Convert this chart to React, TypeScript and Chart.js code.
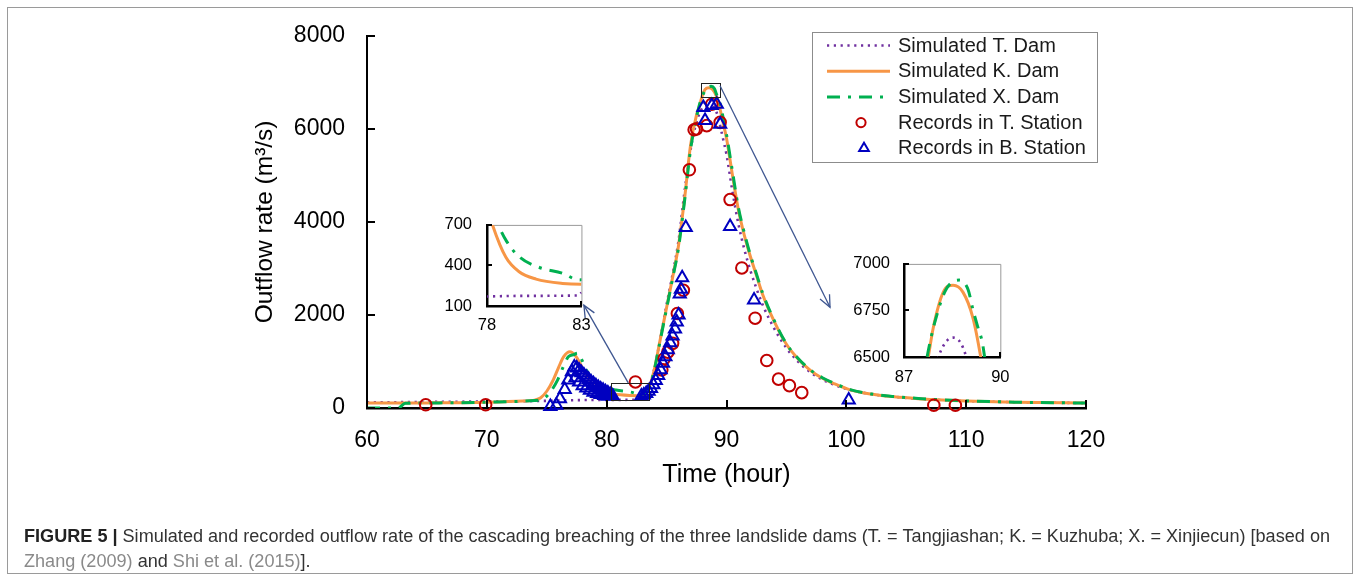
import React, { useEffect, useRef } from 'react';
import { Chart, registerables } from 'chart.js';

Chart.register(...registerables);

const SANS = "'Liberation Sans', Arial, Helvetica, sans-serif";
const NARROW = "'Liberation Sans Narrow', 'Arial Narrow', 'Liberation Sans', Arial, sans-serif";

// ---------- data ----------
const xTicksMain = [60, 70, 80, 90, 100, 110, 120];
const yTicksMain = [0, 2000, 4000, 6000, 8000];
const xTicksInset1 = [78, 83];
const yTicksInset1 = [100, 400, 700];
const xTicksInset2 = [87, 90];
const yTicksInset2 = [6500, 6750, 7000];

// Simulated T. Dam (purple, dotted)
const tDamHour = [60, 65, 70, 74, 78, 80, 82.8, 83.0, 83.3, 83.6, 84.0, 84.5, 85.0, 85.5, 86.0, 86.5, 87.0, 87.5, 88.07, 88.3, 88.53, 88.75, 88.94, 89.3, 89.7, 90.0, 90.5, 91.0, 91.5, 92.0, 93.0, 94.0, 95.0, 96.0, 97.0, 98.0, 99.0, 100.0, 102.0, 104.0, 106.0, 108.0, 110.0, 114.0, 120.0];
const tDamFlow = [120, 130, 140, 150, 170, 175, 178, 200, 300, 500, 870, 1520, 2220, 2870, 3600, 4650, 5550, 6150, 6500, 6580, 6604, 6580, 6500, 6250, 5800, 5450, 4650, 3950, 3400, 2950, 2230, 1700, 1290, 990, 770, 610, 500, 410, 300, 240, 200, 170, 150, 125, 105];

// Simulated K. Dam (orange, solid)
const kDamHour = [60, 65, 70, 73, 74, 74.5, 75, 75.5, 76, 76.4, 76.94, 77.36, 77.7, 78.0, 78.3, 79.0, 79.7, 80.6, 82.0, 83.0, 83.35, 83.6, 83.9, 84.46, 85.01, 85.5, 86.0, 86.5, 87.0, 87.5, 87.755, 87.91, 88.22, 88.53, 88.84, 89.15, 89.39, 89.7, 90.0, 90.5, 91.0, 91.5, 92.0, 92.5, 93.0, 94, 95, 96, 97, 98, 99, 100.32, 102, 104, 106, 108, 110, 114, 120];
const kDamFlow = [105, 110, 125, 150, 170, 220, 360, 580, 880, 1100, 1210, 1136, 1000, 840, 696, 460, 353, 299, 267, 261, 330, 480, 744, 1458, 2172, 2800, 3500, 4500, 5650, 6300, 6500, 6656, 6847, 6885, 6847, 6708, 6500, 6150, 5800, 5000, 4250, 3700, 3250, 2850, 2450, 1850, 1370, 1050, 810, 640, 520, 390, 300, 240, 200, 170, 150, 125, 105];

// Simulated X. Dam (green, dash-dot)
const xDamHour = [60, 62.6, 63.2, 66, 70, 74, 74.4, 74.9, 75.4, 75.9, 76.4, 76.8, 77.3, 77.55, 77.8, 78.06, 78.3, 78.6, 79.04, 79.74, 80.78, 82.0, 82.86, 83.3, 83.6, 83.9, 84.46, 85.01, 85.5, 86.0, 86.5, 87.0, 87.5, 87.72, 87.95, 88.3, 88.72, 89.0, 89.15, 89.3, 89.44, 89.51, 89.75, 90.0, 90.5, 91.0, 91.5, 92.0, 92.5, 93.0, 94, 95, 96, 97, 98, 99, 100.32, 102, 104, 106, 108, 110, 114, 120];
const xDamFlow = [0, 0, 100, 110, 125, 160, 170, 230, 380, 600, 900, 1100, 1150, 1180, 1100, 958, 820, 700, 578, 460, 385, 342, 293, 330, 470, 730, 1440, 2150, 2780, 3450, 4450, 5550, 6250, 6500, 6680, 6860, 6913, 6860, 6752, 6660, 6578, 6500, 6200, 5880, 5080, 4300, 3750, 3280, 2880, 2480, 1870, 1380, 1060, 820, 650, 530, 395, 305, 245, 205, 175, 152, 126, 106];

// Records in T. Station (red circles)
const tStationHour = [64.9, 69.9, 82.4, 84.6, 84.8, 85.1, 85.5, 85.9, 86.4, 86.9, 87.3, 87.5, 88.35, 88.77, 89.47, 90.3, 91.28, 92.39, 93.36, 94.34, 95.25, 96.28, 107.3, 109.1];
const tStationFlow = [70, 70, 560, 820, 1060, 1200, 1390, 2030, 2530, 5120, 5980, 6000, 6070, 6530, 6140, 4480, 3010, 1930, 1020, 620, 480, 330, 60, 60];

// Records in B. Station (blue triangles)
const bStationHour = [75.3, 75.8, 76.1, 76.5, 76.8, 77.1, 77.3, 77.4, 77.5, 77.7, 77.7, 77.9, 78.0, 78.1, 78.3, 78.3, 78.5, 78.6, 78.7, 78.9, 78.9, 79.1, 79.2, 79.3, 79.5, 79.5, 79.7, 79.8, 79.9, 80.1, 80.1, 80.3, 80.5, 82.9, 83.1, 83.3, 83.5, 83.7, 83.9, 84.1, 84.3, 84.5, 84.7, 84.9, 85.1, 85.3, 85.5, 85.7, 85.85, 86.0, 86.1, 86.2, 86.3, 86.6, 88.07, 88.21, 88.77, 89.19, 89.47, 90.3, 92.3, 100.2];
const bStationFlow = [30, 60, 200, 400, 600, 780, 880, 650, 860, 810, 560, 760, 480, 710, 660, 430, 610, 380, 560, 520, 340, 480, 310, 440, 410, 290, 380, 270, 350, 320, 250, 290, 260, 260, 280, 310, 360, 420, 500, 590, 700, 820, 960, 1100, 1250, 1400, 1550, 1700, 1850, 2000, 2450, 2550, 2800, 3880, 6460, 6180, 6500, 6530, 6100, 3900, 2320, 170];

// zoom boxes and arrows, in main-chart data coordinates
const zoomBoxes = [
  { x0: 80.4, x1: 83.6, y0: 170, y1: 540 },
  { x0: 87.9, x1: 89.5, y0: 6680, y1: 6990 },
];
const arrows = [
  { from: [81.8, 540], to: [78.1, 2210] },
  { from: [89.46, 6928], to: [98.64, 2166] },
];

// ---------- styles ----------
const PURPLE = '#7030A0';
const ORANGE = '#F79646';
const GREEN = '#00B050';
const RED = '#C00000';
const BLUE = '#0000C0';

const pairs = (xs: number[], ys: number[]) => xs.map((x, i) => ({ x, y: ys[i] }));
const plain = (v: any) => String(v);

function lineDatasets() {
  return [
    {
      label: 'Simulated T. Dam', data: pairs(tDamHour, tDamFlow), borderColor: PURPLE, backgroundColor: PURPLE,
      borderWidth: 2.6, borderDash: [2.2, 4.6], borderCapStyle: 'butt', pointRadius: 0,
      cubicInterpolationMode: 'monotone', fill: false, order: 5,
    },
    {
      label: 'Simulated K. Dam', data: pairs(kDamHour, kDamFlow), borderColor: ORANGE, backgroundColor: ORANGE,
      borderWidth: 3, pointRadius: 0, cubicInterpolationMode: 'monotone', fill: false, order: 4,
    },
    {
      label: 'Simulated X. Dam', data: pairs(xDamHour, xDamFlow), borderColor: GREEN, backgroundColor: GREEN,
      borderWidth: 3, borderDash: [13, 8, 3, 8], pointRadius: 0, cubicInterpolationMode: 'monotone', fill: false, order: 3,
    },
  ];
}

function markerDatasets() {
  return [
    {
      label: 'Records in T. Station', data: pairs(tStationHour, tStationFlow), showLine: false,
      pointStyle: 'circle', pointRadius: 5.8, pointBorderWidth: 2, pointBorderColor: RED,
      pointBackgroundColor: 'rgba(0,0,0,0)', borderColor: RED, backgroundColor: 'rgba(0,0,0,0)', order: 2, clip: false,
    },
    {
      label: 'Records in B. Station', data: pairs(bStationHour, bStationFlow), showLine: false,
      pointStyle: 'triangle', pointRadius: 7, pointBorderWidth: 2, pointBorderColor: BLUE,
      pointBackgroundColor: 'rgba(0,0,0,0)', borderColor: BLUE, backgroundColor: 'rgba(0,0,0,0)', order: 1, clip: false,
    },
  ];
}

function drawArrow(ctx: CanvasRenderingContext2D, x0: number, y0: number, x1: number, y1: number) {
  ctx.beginPath();
  ctx.moveTo(x0, y0);
  ctx.lineTo(x1, y1);
  ctx.stroke();
  const ang = Math.atan2(y1 - y0, x1 - x0);
  const len = 13;
  const spread = 0.42;
  ctx.beginPath();
  ctx.moveTo(x1 - len * Math.cos(ang - spread), y1 - len * Math.sin(ang - spread));
  ctx.lineTo(x1, y1);
  ctx.lineTo(x1 - len * Math.cos(ang + spread), y1 - len * Math.sin(ang + spread));
  ctx.stroke();
}

function drawLegend(chart: any) {
  const ctx: CanvasRenderingContext2D = chart.ctx;
  const box = { l: 812.5, t: 32.5, r: 1097.5, b: 162.5 };
  ctx.save();
  ctx.fillStyle = '#fff';
  ctx.fillRect(box.l, box.t, box.r - box.l, box.b - box.t);
  ctx.strokeStyle = '#8c8c8c';
  ctx.lineWidth = 1;
  ctx.strokeRect(box.l, box.t, box.r - box.l, box.b - box.t);
  const ds = chart.data.datasets;
  ds.forEach((d: any, i: number) => {
    const y = 45.5 + i * 25.7;
    if (d.showLine === false) {
      ctx.setLineDash([]);
      ctx.lineWidth = 2;
      ctx.strokeStyle = d.pointBorderColor;
      ctx.beginPath();
      if (d.pointStyle === 'circle') {
        ctx.arc(861, y, 4.6, 0, Math.PI * 2);
      } else {
        const r = 5.6;
        ctx.moveTo(864, y - r);
        ctx.lineTo(864 + r * 0.866, y + r * 0.5);
        ctx.lineTo(864 - r * 0.866, y + r * 0.5);
        ctx.closePath();
      }
      ctx.stroke();
    } else {
      ctx.setLineDash(d.borderDash || []);
      ctx.lineWidth = d.borderWidth;
      ctx.strokeStyle = d.borderColor;
      ctx.beginPath();
      ctx.moveTo(827, y);
      ctx.lineTo(890, y);
      ctx.stroke();
    }
    ctx.setLineDash([]);
    ctx.fillStyle = '#1a1a1a';
    ctx.font = `20px ${SANS}`;
    ctx.textBaseline = 'middle';
    ctx.textAlign = 'left';
    ctx.fillText(d.label, 898, y + 0.5);
  });
  ctx.restore();
}

function drawCaption(ctx: CanvasRenderingContext2D) {
  const line1 = [
    { t: 'FIGURE 5 | ', bold: true, color: '#222' },
    { t: 'Simulated and recorded outflow rate of the cascading breaching of the three landslide dams (T. = Tangjiashan; K. = Kuzhuba; X. = Xinjiecun) [based on', bold: false, color: '#333' },
  ];
  const line2 = [
    { t: 'Zhang (2009)', bold: false, color: '#8a8a8a' },
    { t: ' and ', bold: false, color: '#333' },
    { t: 'Shi et al. (2015)', bold: false, color: '#8a8a8a' },
    { t: '].', bold: false, color: '#333' },
  ];
  const font = (b: boolean) => `${b ? 'bold ' : ''}17.5px ${NARROW}`;
  const width = (segs: any[]) => segs.reduce((s, g) => { ctx.font = font(g.bold); return s + ctx.measureText(g.t).width; }, 0);
  const scale = (1330 - 24) / width(line1);
  const drawLine = (segs: any[], y: number) => {
    ctx.save();
    ctx.translate(24, y);
    ctx.scale(scale, 1);
    let x = 0;
    ctx.textBaseline = 'middle';
    ctx.textAlign = 'left';
    segs.forEach((g) => {
      ctx.font = font(g.bold);
      ctx.fillStyle = g.color;
      ctx.fillText(g.t, x, 0);
      x += ctx.measureText(g.t).width;
    });
    ctx.restore();
  };
  drawLine(line1, 537);
  drawLine(line2, 562);
}

const mainDecor = {
  id: 'mainDecor',
  afterDraw(chart: any) {
    const ctx: CanvasRenderingContext2D = chart.ctx;
    const a = chart.chartArea;
    const xs = chart.scales.x;
    const ys = chart.scales.y;
    ctx.save();
    // inward tick marks
    ctx.strokeStyle = '#000';
    ctx.lineWidth = 2;
    ctx.setLineDash([]);
    xTicksMain.forEach((v) => {
      const px = Math.round(xs.getPixelForValue(v));
      ctx.beginPath();
      ctx.moveTo(px, a.bottom);
      ctx.lineTo(px, a.bottom - 8);
      ctx.stroke();
    });
    yTicksMain.forEach((v) => {
      const py = Math.round(ys.getPixelForValue(v));
      ctx.beginPath();
      ctx.moveTo(a.left, py);
      ctx.lineTo(a.left + 8, py);
      ctx.stroke();
    });
    // zoom boxes
    ctx.strokeStyle = '#222';
    ctx.lineWidth = 1;
    zoomBoxes.forEach((b) => {
      const x0 = xs.getPixelForValue(b.x0), x1 = xs.getPixelForValue(b.x1);
      const y0 = ys.getPixelForValue(b.y0), y1 = ys.getPixelForValue(b.y1);
      ctx.strokeRect(Math.round(x0) + 0.5, Math.round(y1) + 0.5, Math.round(x1 - x0), Math.round(y0 - y1));
    });
    // arrows
    ctx.strokeStyle = '#3E5690';
    ctx.lineWidth = 1.3;
    arrows.forEach((ar) => {
      drawArrow(ctx, xs.getPixelForValue(ar.from[0]), ys.getPixelForValue(ar.from[1]),
        xs.getPixelForValue(ar.to[0]), ys.getPixelForValue(ar.to[1]));
    });
    ctx.restore();
    drawLegend(chart);
    ctx.save();
    drawCaption(ctx);
    // figure frame
    ctx.strokeStyle = '#9a9a9a';
    ctx.lineWidth = 1;
    ctx.strokeRect(7.5, 7.5, 1345, 566);
    ctx.restore();
  },
};

function makeMain(canvas: HTMLCanvasElement) {
  return new Chart(canvas, {
    type: 'line',
    data: { datasets: [...lineDatasets(), ...markerDatasets()] as any },
    options: {
      responsive: false,
      animation: false,
      events: [],
      layout: { padding: { left: 0, top: 35, right: 274, bottom: 0 } },
      plugins: { legend: { display: false }, tooltip: { enabled: false } },
      scales: {
        x: {
          type: 'linear', min: 60, max: 120,
          afterBuildTicks: (s: any) => { s.ticks = xTicksMain.map((v) => ({ value: v })); },
          ticks: { font: { family: SANS, size: 23 }, color: '#000', padding: 19, maxRotation: 0, callback: plain },
          grid: { display: false, drawTicks: false },
          border: { display: true, color: '#000', width: 2.5 },
          title: { display: true, text: 'Time (hour)', color: '#000', font: { family: SANS, size: 25 }, padding: { top: 0, bottom: 91 } },
          afterFit: (s: any) => { s.height = 173; },
        },
        y: {
          type: 'linear', min: 0, max: 8000,
          afterBuildTicks: (s: any) => { s.ticks = yTicksMain.map((v) => ({ value: v })); },
          ticks: { font: { family: SANS, size: 23 }, color: '#000', padding: 22, callback: plain },
          grid: { display: false, drawTicks: false },
          border: { display: true, color: '#000', width: 2 },
          title: { display: true, text: 'Outflow rate (m³/s)', color: '#000', font: { family: SANS, size: 24.5 }, padding: { top: 250.3, bottom: 0 } },
          afterFit: (s: any) => { s.width = 367; },
        },
      },
    },
    plugins: [mainDecor],
  } as any);
}

type InsetCfg = {
  left: number; top: number; w: number; h: number;
  area: { l: number; t: number; r: number; b: number };
  xMin: number; xMax: number; yMin: number; yMax: number;
  xTicks: number[]; yTicks: number[]; xPad: number; yPad: number;
};

const INSET1: InsetCfg = {
  left: 430, top: 200, w: 170, h: 140,
  area: { l: 57, t: 13, r: 153, b: 106 },
  xMin: 78, xMax: 83, yMin: 100, yMax: 700,
  xTicks: xTicksInset1, yTicks: yTicksInset1, xPad: 9.4, yPad: 15,
};
const INSET2: InsetCfg = {
  left: 840, top: 240, w: 180, h: 150,
  area: { l: 64, t: 21, r: 161, b: 117 },
  xMin: 87, xMax: 90, yMin: 6500, yMax: 7000,
  xTicks: xTicksInset2, yTicks: yTicksInset2, xPad: 10.5, yPad: 14,
};

function makeInset(canvas: HTMLCanvasElement, c: InsetCfg) {
  const decor = {
    id: 'insetDecor',
    beforeDatasetsDraw(chart: any) {
      const ctx: CanvasRenderingContext2D = chart.ctx;
      const a = chart.chartArea;
      ctx.save();
      ctx.strokeStyle = '#9a9a9a';
      ctx.lineWidth = 1;
      ctx.beginPath();
      ctx.moveTo(a.left, a.top + 0.5);
      ctx.lineTo(a.right + 0.5, a.top + 0.5);
      ctx.lineTo(a.right + 0.5, a.bottom);
      ctx.stroke();
      ctx.restore();
    },
    afterDraw(chart: any) {
      const ctx: CanvasRenderingContext2D = chart.ctx;
      const a = chart.chartArea;
      ctx.save();
      ctx.strokeStyle = '#000';
      ctx.lineWidth = 2;
      c.yTicks.forEach((v) => {
        const py = Math.round(chart.scales.y.getPixelForValue(v));
        ctx.beginPath();
        ctx.moveTo(a.left, py);
        ctx.lineTo(a.left + 5, py);
        ctx.stroke();
      });
      c.xTicks.forEach((v) => {
        const px = Math.round(chart.scales.x.getPixelForValue(v));
        ctx.beginPath();
        ctx.moveTo(px, a.bottom);
        ctx.lineTo(px, a.bottom - 5);
        ctx.stroke();
      });
      ctx.restore();
    },
  };
  return new Chart(canvas, {
    type: 'line',
    data: { datasets: lineDatasets() as any },
    options: {
      responsive: false,
      animation: false,
      events: [],
      layout: { padding: { left: 0, top: c.area.t, right: c.w - c.area.r, bottom: 0 } },
      plugins: { legend: { display: false }, tooltip: { enabled: false } },
      scales: {
        x: {
          type: 'linear', min: c.xMin, max: c.xMax,
          afterBuildTicks: (s: any) => { s.ticks = c.xTicks.map((v) => ({ value: v })); },
          ticks: { font: { family: SANS, size: 16.5 }, color: '#000', padding: c.xPad, maxRotation: 0, callback: plain },
          grid: { display: false, drawTicks: false },
          border: { display: true, color: '#000', width: 2.5 },
          afterFit: (s: any) => { s.height = c.h - c.area.b; },
        },
        y: {
          type: 'linear', min: c.yMin, max: c.yMax,
          afterBuildTicks: (s: any) => { s.ticks = c.yTicks.map((v) => ({ value: v })); },
          ticks: { font: { family: SANS, size: 16.5 }, color: '#000', padding: c.yPad, callback: plain },
          grid: { display: false, drawTicks: false },
          border: { display: true, color: '#000', width: 2.5 },
          afterFit: (s: any) => { s.width = c.area.l; },
        },
      },
    },
    plugins: [decor],
  } as any);
}

export default function App() {
  const mainRef = useRef<HTMLCanvasElement>(null);
  const in1Ref = useRef<HTMLCanvasElement>(null);
  const in2Ref = useRef<HTMLCanvasElement>(null);

  useEffect(() => {
    Chart.defaults.font.family = SANS;
    const charts = [
      makeMain(mainRef.current!),
      makeInset(in1Ref.current!, INSET1),
      makeInset(in2Ref.current!, INSET2),
    ];
    return () => charts.forEach((ch) => ch.destroy());
  }, []);

  const abs = (l: number, t: number, w: number, h: number) => ({ position: 'absolute' as const, left: l, top: t, width: w, height: h });

  return (
    <div style={{ ...abs(0, 0, 1360, 581), background: '#fff', overflow: 'hidden' }}>
      <canvas ref={mainRef} width={1360} height={581} style={abs(0, 0, 1360, 581)} />
      <canvas ref={in1Ref} width={INSET1.w} height={INSET1.h} style={abs(INSET1.left, INSET1.top, INSET1.w, INSET1.h)} />
      <canvas ref={in2Ref} width={INSET2.w} height={INSET2.h} style={abs(INSET2.left, INSET2.top, INSET2.w, INSET2.h)} />
    </div>
  );
}
